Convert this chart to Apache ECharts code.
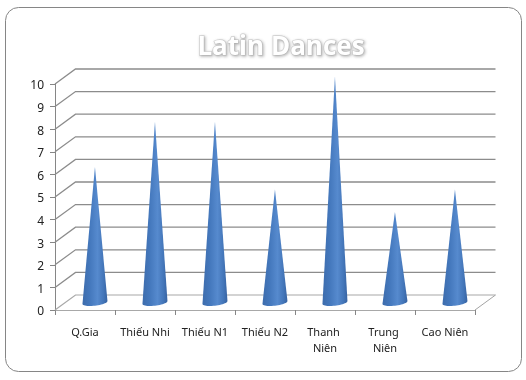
<!DOCTYPE html>
<html><head><meta charset="utf-8">
<style>html,body{margin:0;padding:0;background:#fff}#c{width:526px;height:380px}</style>
<script src="https://cdn.jsdelivr.net/npm/echarts@6/dist/echarts.min.js"></script>
</head><body><div id="c"></div>
<script>
const categories = ['Q.Gia','Thiếu Nhi','Thiếu N1','Thiếu N2','Thanh Niên','Trung Niên','Cao Niên'];
const values = [6,8,8,5,10,4,5];
const valueTicks = [0,1,2,3,4,5,6,7,8,9,10];
const titleText = 'Latin Dances';

const DX = 20.5, DY = 15, LINE = '#8c8c8c';
const chart = echarts.init(document.getElementById('c'), null, {renderer:'canvas'});

function renderWall(params, api){
  const v = api.value(1);
  const band = api.size([1,0])[0];
  const a = api.coord([0,v]), b = api.coord([categories.length-1,v]);
  const x0 = a[0]-band/2, x1 = b[0]+band/2, y = a[1];
  const style = {stroke: LINE, lineWidth: 1.3, fill:null};
  const children = [
    {type:'polyline', shape:{points:[[x0,y],[x0+DX,y-DY],[x1+DX,y-DY]]}, style}
  ];
  if (v === 0) {
    children.push({type:'line', shape:{x1:x1,y1:y,x2:x1+DX,y2:y-DY}, style:{stroke:'#a4a4a4',lineWidth:1}});
    children[0].style = {stroke:'#a8a8a8', lineWidth:1.2, fill:null};
  }
  return {type:'group', children};
}
function renderCone(params, api){
  const c = api.coord([api.value(0), api.value(1)]);
  const base = api.coord([api.value(0), 0]);
  const cx = base[0]+DX/2-0.3, by = base[1]-DY/2, tip = c[1]-DY/2;
  const rx = 12.5, ry = 3.2, tilt = 1.4;
  const pts = [[cx,tip]];
  for (let i=0;i<=24;i++){
    const t = Math.PI*i/24, k = Math.cos(t);
    pts.push([cx+rx*k, by+ry*Math.sin(t)-tilt*k]);
  }
  return {type:'polygon', shape:{points:pts}, style:{
    fill:{type:'linear',x:0,y:0,x2:1,y2:0,colorStops:[
      {offset:0,color:'#3d6cac'},{offset:0.3,color:'#4478bd'},
      {offset:0.6,color:'#568ace'},{offset:0.85,color:'#4375b8'},{offset:1,color:'#3763a2'}
    ]}
  }};
}
chart.setOption({
  animation:false,
  backgroundColor:'#fff',
  title:{text:titleText,left:276,top:30,textAlign:'center',
    textStyle:{fontFamily:'Open Sans',fontWeight:'bold',fontSize:26,color:'#fff',
      textBorderColor:'#d4d4d4',textBorderWidth:1.5,
      textShadowColor:'rgba(0,0,0,0.22)',textShadowBlur:3,textShadowOffsetX:1,textShadowOffsetY:1}},
  graphic:[{type:'rect',z:-10,shape:{x:5.5,y:7.5,width:516,height:364,r:13},
    style:{fill:'#fff',stroke:'#868686',lineWidth:1}}],
  grid:{left:55,right:51,top:84,bottom:70,containLabel:false},
  xAxis:{type:'category',data:categories,boundaryGap:true,
    axisLine:{lineStyle:{color:'#a8a8a8',width:1}},
    axisTick:{show:true,alignWithLabel:false,length:5,lineStyle:{color:'#868686'}},
    axisLabel:{interval:0,margin:15,color:'#222',fontFamily:'Noto Sans',fontSize:11,lineHeight:16,width:60,overflow:'break'},
    splitLine:{show:false}},
  yAxis:{type:'value',min:0,max:10,interval:1,
    axisLine:{show:true,lineStyle:{color:'#868686'}},
    axisTick:{show:true,length:5,lineStyle:{color:'#868686'}},
    axisLabel:{margin:11,formatter:'{a|{value}}',
      rich:{a:{color:'#222',fontFamily:'Noto Sans',fontSize:12,padding:[4,0,0,0]}}},
    splitLine:{show:false}},
  series:[
    {type:'custom',renderItem:renderWall,silent:true,z:1,clip:false,
      encode:{x:0,y:1},data:valueTicks.map(v=>[0,v])},
    {type:'custom',renderItem:renderCone,silent:true,z:3,clip:false,
      encode:{x:0,y:1},data:values.map((v,i)=>[i,v])}
  ]
});
</script></body></html>
